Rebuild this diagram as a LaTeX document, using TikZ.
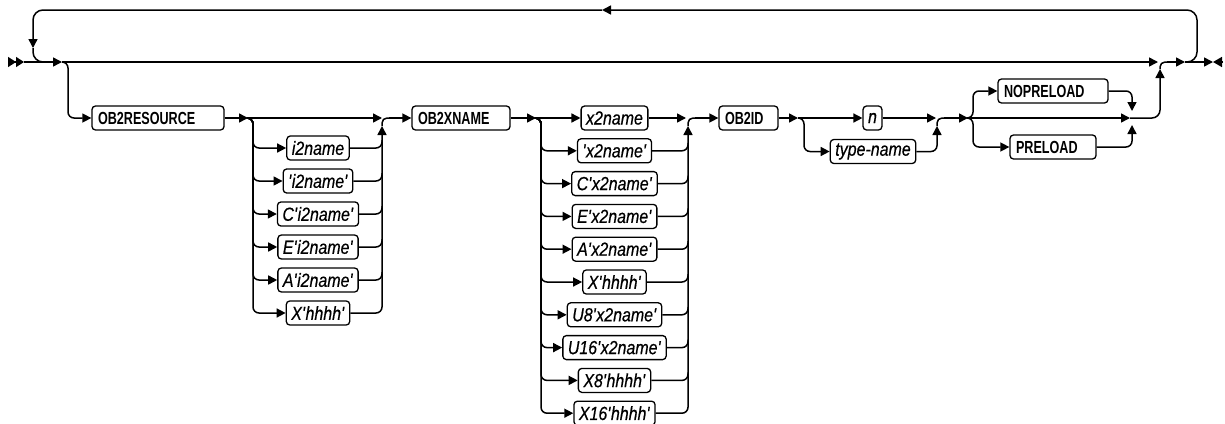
\documentclass[tikz,border=0pt]{standalone}
\usepackage{fontspec}
\setmainfont{Liberation Sans}
\newfontfamily\kwfont[FakeStretch=0.72]{Liberation Sans}
\newfontfamily\varfontfam[FakeStretch=0.84,FakeBold=0.5]{Liberation Sans}
\usetikzlibrary{arrows.meta,calc}
\newcommand\apo{\textquotesingle}
\begin{document}
\begin{tikzpicture}[x=1pt,y=-1pt,
  rail/.style={line width=1.5pt, rounded corners=6pt},
  >={Triangle[length=9pt,width=9pt]},
  kw/.style={draw, line width=1.3pt, rounded corners=3.5pt, minimum height=24pt, inner xsep=6pt, inner ysep=0pt, align=left, font=\kwfont\bfseries\fontsize{17.5}{18}\selectfont},
  var/.style={draw, line width=1.3pt, rounded corners=3.5pt, minimum height=24pt, inner xsep=5pt, inner ysep=0pt, font=\varfontfam\itshape\fontsize{19}{20}\selectfont},
]
\useasboundingbox (0,0) rectangle (1225,423);

% keyword boxes
\node[kw,text width=120pt] (res) at (158,118) {OB2RESOURCE};
\node[kw,text width=86pt] (xname) at (461,118) {OB2XNAME};
\node[kw,text width=47pt] (id) at (748.5,118) {OB2ID};
\node[kw,text width=98pt] (nopre) at (1053,91) {NOPRELOAD};
\node[kw,text width=74pt] (pre) at (1053,147) {PRELOAD};

% i2name column
\node[var] (i1) at (318,148) {i2name};
\node[var] (i2) at (318,181) {\apo i2name\apo};
\node[var] (i3) at (318,214) {C\apo i2name\apo};
\node[var] (i4) at (318,247) {E\apo i2name\apo};
\node[var] (i5) at (318,280) {A\apo i2name\apo};
\node[var] (i6) at (318,313) {X\apo hhhh\apo};

% x2name column
\node[var] (x1) at (614.5,118) {x2name};
\node[var] (x2) at (614.5,150.8) {\apo x2name\apo};
\node[var] (x3) at (614.5,183.6) {C\apo x2name\apo};
\node[var] (x4) at (614.5,216.4) {E\apo x2name\apo};
\node[var] (x5) at (614.5,249.2) {A\apo x2name\apo};
\node[var] (x6) at (614.5,282) {X\apo hhhh\apo};
\node[var] (x7) at (614.5,314.8) {U8\apo x2name\apo};
\node[var] (x8) at (614.5,347.6) {U16\apo x2name\apo};
\node[var] (x9) at (614.5,380.4) {X8\apo hhhh\apo};
\node[var] (x10) at (614.5,413.2) {X16\apo hhhh\apo};

% id
\node[var] (n) at (872.5,118) {n};
\node[var] (tn) at (873,151.5) {type-name};

% coordinates
\coordinate (start) at (8,62);
\coordinate (s1) at (24,62);
\coordinate (a1) at (62,62);
\coordinate (mEnd) at (1158,62);
\coordinate (upT) at (1160,69);
\coordinate (c2) at (1167,62);
\coordinate (lpR) at (1185,62);
\coordinate (endT) at (1213,62);
\coordinate (endR) at (1223,62);
\coordinate (loopTR) at (1197,10);
\coordinate (loopMid) at (602,10);
\coordinate (loopDn) at (33,48);
\coordinate (loopJ) at (46,62);

\coordinate (j1) at (248,118);
\coordinate (j2) at (382,118);
\coordinate (jUp) at (382,126);
\coordinate (j3) at (389,118);

\coordinate (k1) at (536,118);
\coordinate (k2) at (686,118);
\coordinate (kUp) at (688,126);
\coordinate (k3) at (695,118);

\coordinate (m1) at (798,118);
\coordinate (m2) at (936,118);
\coordinate (mUp) at (937,126);
\coordinate (m3) at (944,118);

\coordinate (p1) at (968,118);
\coordinate (q) at (1130,118);
\coordinate (qDn) at (1132,111);
\coordinate (qUp) at (1132,125);

% start marker and main line
\draw[rail,-{Triangle[length=8pt,width=10pt]Triangle[length=8pt,width=10pt]}] (start) -- (s1);
\draw[rail,->] (s1) -- (a1);
\draw[rail,->] (a1) -- (mEnd);
\draw[rail,->] (a1) -- ++(6,0) |- (res.west);

% OB2RESOURCE group
\draw[rail,->] (res.east) -- (j1);
\draw[rail,->] (j1) -- (j2);
\foreach \k in {1,...,6} {\draw[rail,->] (j1) -- ++(5,0) |- (i\k.west);}
\foreach \k in {1,...,5} {\draw[rail] (i\k.east) -- (i\k.east -| jUp) -- ++(0,-8);}
\draw[rail,->] (i6.east) -- (i6.east -| jUp) -- (jUp);
\draw[rail,rounded corners=5pt] (jUp) |- (j3);
\draw[rail,->] (j3) -- (xname.west);

% OB2XNAME group
\draw[rail,->] (xname.east) -- (k1);
\draw[rail,->] (k1) -- (x1.west);
\foreach \k in {2,...,10} {\draw[rail,->] (k1) -- ++(5,0) |- (x\k.west);}
\draw[rail,->] (x1.east) -- (k2);
\foreach \k in {2,...,9} {\draw[rail] (x\k.east) -- (x\k.east -| kUp) -- ++(0,-8);}
\draw[rail,->] (x10.east) -- (x10.east -| kUp) -- (kUp);
\draw[rail,rounded corners=5pt] (kUp) |- (k3);
\draw[rail,->] (k3) -- (id.west);

% OB2ID group
\draw[rail,->] (id.east) -- (m1);
\draw[rail,->] (m1) -- (n.west);
\draw[rail,->] (m1) -- ++(6,0) |- (tn.west);
\draw[rail,->] (n.east) -- (m2);
\draw[rail,->] (tn.east) -- (tn.east -| mUp) -- (mUp);
\draw[rail,rounded corners=5pt] (mUp) |- (m3);
\draw[rail,->] (m3) -- (p1);

% PRELOAD group
\draw[rail,->] (p1) -- ++(5,0) |- (nopre.west);
\draw[rail,->] (p1) -- ++(5,0) |- (pre.west);
\draw[rail,->] (p1) -- (q);
\draw[rail,->] (nopre.east) -| (qDn);
\draw[rail,->] (pre.east) -| (qUp);
\draw[rail,rounded corners=8pt,->] (q) -| (upT);
\draw[rail,rounded corners=5pt] (upT) |- (c2);
\draw[rail,->] (c2) -- (lpR);

% repeat loop
\draw[rail,rounded corners=10pt,->] (lpR) -| (loopTR) -- (loopMid);
\draw[rail,rounded corners=10pt,->] (loopMid) -| (loopDn);
\draw[rail,rounded corners=10pt] (loopDn) |- (loopJ);

% end marker
\draw[rail,->] (lpR) -- (endT);
\draw[rail,-{Triangle[length=9pt,width=10pt]}] (endR) -- (endT);
\end{tikzpicture}
\end{document}
